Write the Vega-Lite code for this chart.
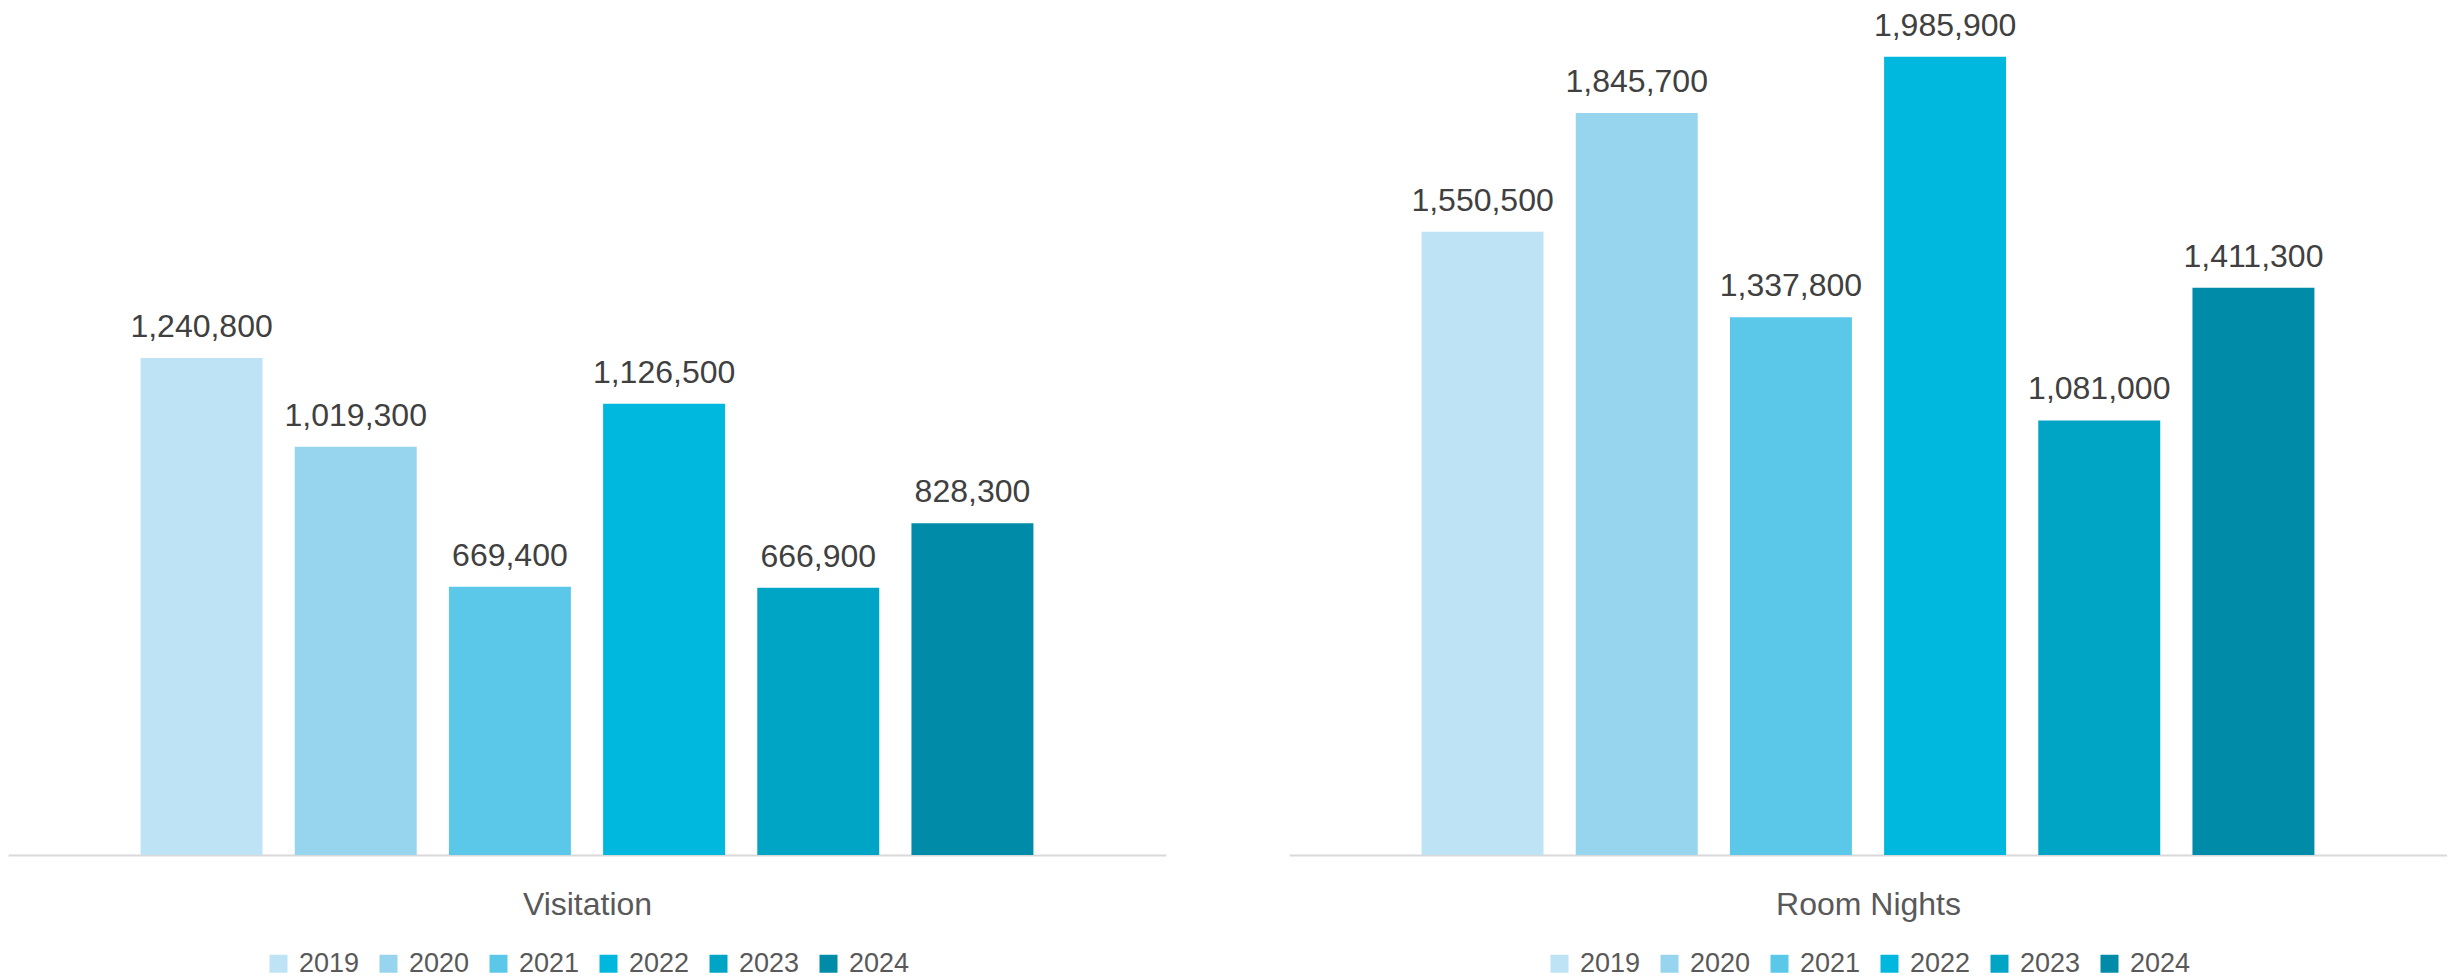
{
  "$schema": "https://vega.github.io/schema/vega-lite/v6.json",
  "background": "white",
  "padding": {"left": 8, "top": 0, "right": 0, "bottom": 0},
  "config": {
    "view": {"stroke": null},
    "font": "Liberation Sans",
    "concat": {"spacing": 123},
    "legend": {"layout": {"bottom": {"anchor": "middle"}}}
  },
  "datasets": {
    "vis": [
      {"year": "2019", "value": 1240800},
      {"year": "2020", "value": 1019300},
      {"year": "2021", "value": 669400},
      {"year": "2022", "value": 1126500},
      {"year": "2023", "value": 666900},
      {"year": "2024", "value": 828300}
    ],
    "rn": [
      {"year": "2019", "value": 1550500},
      {"year": "2020", "value": 1845700},
      {"year": "2021", "value": 1337800},
      {"year": "2022", "value": 1985900},
      {"year": "2023", "value": 1081000},
      {"year": "2024", "value": 1411300}
    ]
  },
  "resolve": {"scale": {"color": "independent", "y": "independent"}, "legend": {"color": "independent"}},
  "hconcat": [
    {
      "width": 1158,
      "height": 855,
      "data": {"name": "vis"},
      "encoding": {
        "x": {
          "field": "year", "type": "nominal",
          "scale": {"paddingInner": 0.209, "paddingOuter": 0.86},
          "axis": {"title": "Visitation", "labels": false, "ticks": false, "domainColor": "#d9d9d9", "domainWidth": 2,
                   "titleFont": "Liberation Sans", "titleFontSize": 32, "titleFontWeight": "normal", "titleColor": "#595959",
                   "titlePadding": 59, "titleBaseline": "alphabetic"}
        },
        "y": {"field": "value", "type": "quantitative", "scale": {"domain": [0, 2134500], "nice": false, "zero": true}, "axis": null}
      },
      "layer": [
        {
          "mark": {"type": "bar"},
          "encoding": {
            "color": {
              "field": "year", "type": "nominal",
              "scale": {"domain": ["2019", "2020", "2021", "2022", "2023", "2024"], "range": ["#bde3f4", "#97d5ee", "#5bc8e9", "#00b7de", "#00a5c6", "#008ba8"]},
              "legend": {"title": null, "orient": "bottom", "direction": "horizontal", "symbolType": "square", "symbolSize": 324, "symbolStrokeWidth": 0,
                         "labelFontSize": 27, "labelColor": "#595959", "labelFont": "Liberation Sans", "columnPadding": 15, "labelOffset": 7, "offset": 30}
            }
          }
        },
        {
          "mark": {"type": "text", "baseline": "alphabetic", "dy": -21, "fontSize": 32, "color": "#404040", "font": "Liberation Sans"},
          "encoding": {"text": {"field": "value", "type": "quantitative", "format": ","}}
        }
      ]
    },
    {
      "width": 1158,
      "height": 855,
      "data": {"name": "rn"},
      "encoding": {
        "x": {
          "field": "year", "type": "nominal",
          "scale": {"paddingInner": 0.209, "paddingOuter": 0.86},
          "axis": {"title": "Room Nights", "labels": false, "ticks": false, "domainColor": "#d9d9d9", "domainWidth": 2,
                   "titleFont": "Liberation Sans", "titleFontSize": 32, "titleFontWeight": "normal", "titleColor": "#595959",
                   "titlePadding": 59, "titleBaseline": "alphabetic"}
        },
        "y": {"field": "value", "type": "quantitative", "scale": {"domain": [0, 2127000], "nice": false, "zero": true}, "axis": null}
      },
      "layer": [
        {
          "mark": {"type": "bar"},
          "encoding": {
            "color": {
              "field": "year", "type": "nominal",
              "scale": {"domain": ["2019", "2020", "2021", "2022", "2023", "2024"], "range": ["#bde3f4", "#97d5ee", "#5bc8e9", "#00b7de", "#00a5c6", "#008ba8"]},
              "legend": {"title": null, "orient": "bottom", "direction": "horizontal", "symbolType": "square", "symbolSize": 324, "symbolStrokeWidth": 0,
                         "labelFontSize": 27, "labelColor": "#595959", "labelFont": "Liberation Sans", "columnPadding": 15, "labelOffset": 7, "offset": 30}
            }
          }
        },
        {
          "mark": {"type": "text", "baseline": "alphabetic", "dy": -21, "fontSize": 32, "color": "#404040", "font": "Liberation Sans"},
          "encoding": {"text": {"field": "value", "type": "quantitative", "format": ","}}
        }
      ]
    }
  ]
}
